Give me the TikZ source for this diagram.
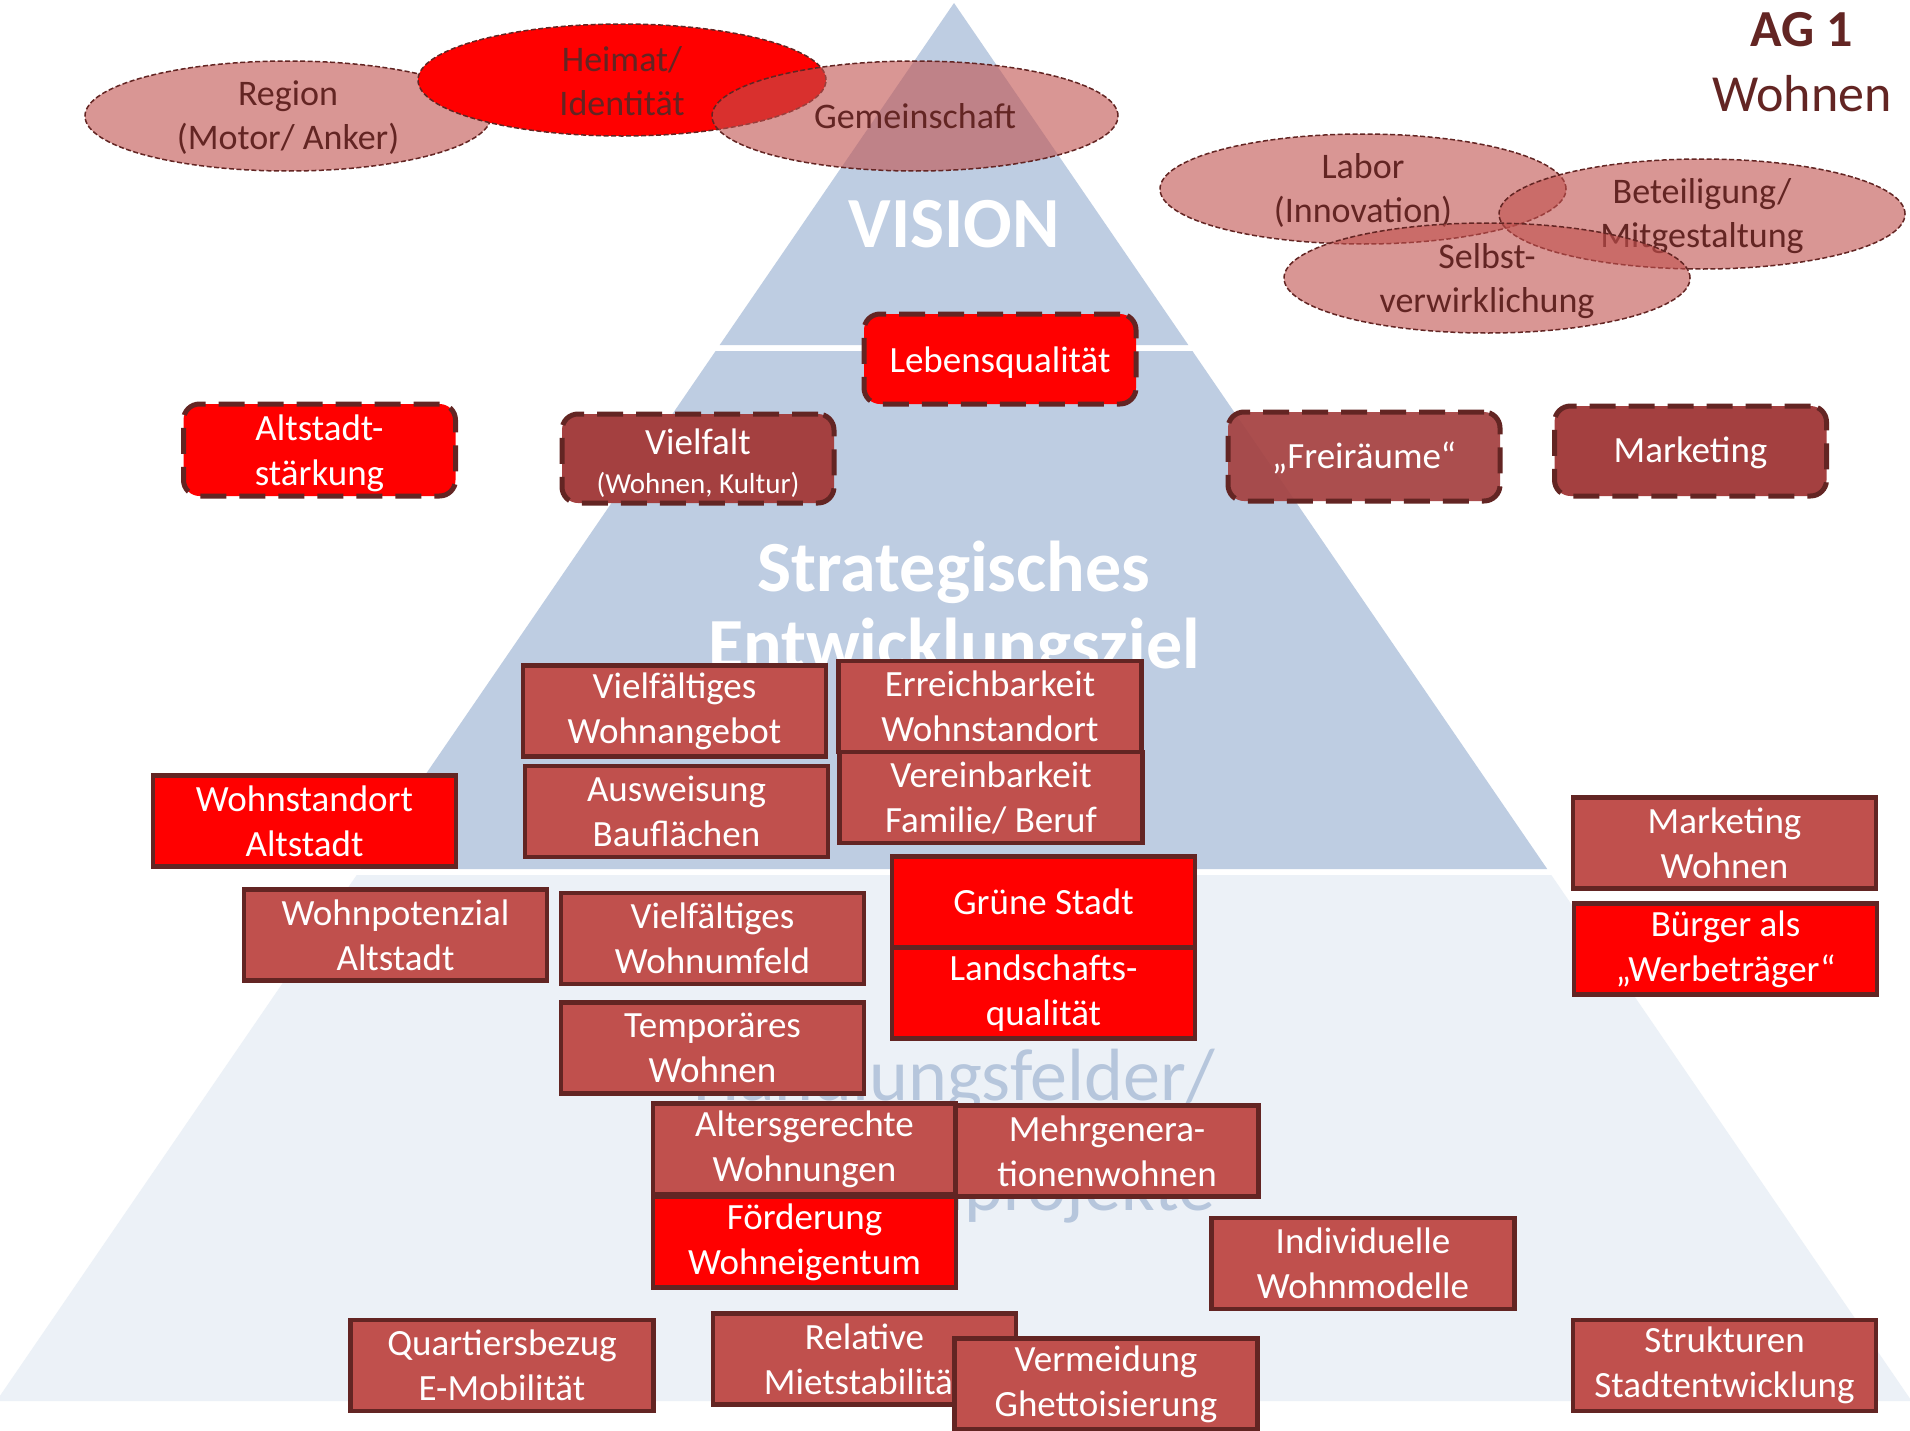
\documentclass[tikz,border=0pt]{standalone}
\usepackage{fontspec}
\setmainfont{Carlito}
\usetikzlibrary{shapes.geometric}
\definecolor{dred}{HTML}{632523}
\definecolor{boxred}{HTML}{C0504D}
\definecolor{texred}{RGB}{164,64,64}
\definecolor{pyr}{RGB}{190,205,226}
\definecolor{pyrlight}{RGB}{236,241,247}
\definecolor{lowtxtcol}{RGB}{182,198,220}
\begin{document}
\begin{tikzpicture}[x=1pt,y=-1pt,
  fbox/.style={draw=dred, line width=4.5pt, fill=boxred, text=white, minimum width=303pt, minimum height=91pt, inner sep=0pt, align=center, font=\fontsize{37}{45}\selectfont},
  rbox/.style={fbox, fill=red},
  gbox/.style={draw=dred, line width=5pt, dash pattern=on 26pt off 13pt, rounded corners=16pt, minimum width=272pt, minimum height=90pt, inner sep=0pt, text=white, align=center, fill=texred, font=\fontsize{37}{45}\selectfont},
  gtxt/.style={text=white, align=center, font=\fontsize{37}{45}\selectfont},
  ell/.style={ellipse, draw=dred, line width=1.5pt, dash pattern=on 5pt off 2.5pt, fill=boxred, fill opacity=0.6, minimum width=406pt, minimum height=110pt, inner sep=0pt},
  elltxt/.style={text=dred, align=center, font=\fontsize{36}{44}\selectfont},
  bandtxt/.style={text=white, font=\fontsize{72}{80}\selectfont\bfseries, anchor=base},
  lowtxt/.style={text=lowtxtcol, font=\fontsize{74}{90}\selectfont, anchor=base},
  ttl/.style={text=dred, font=\fontsize{52}{60}\selectfont}
]
\useasboundingbox (0,0) rectangle (1910,1430);
\fill[white] (0,0) rectangle (1910,1430);

% pyramid bands
\fill[pyr] (954,3) -- (1188.3,345) -- (719.7,345) -- cycle;
\fill[pyr] (715.6,351) -- (1192.4,351) -- (1547.2,869) -- (360.8,869) -- cycle;
\fill[pyrlight] (356.7,875) -- (1551.3,875) -- (1911.6,1401) -- (-3.6,1401) -- cycle;

\node[bandtxt] (vision) at (954,247) {VISION};
\node[bandtxt] (strat1) at (954,591) {Strategisches};
\node[bandtxt] (strat2) at (954,668) {Entwicklungsziel};
\node[lowtxt] (hf1) at (954,1100) {Handlungsfelder/};
\node[lowtxt] (hf2) at (954,1210) {Schlüsselprojekte};

% title
\node[ttl, font=\fontsize{52}{60}\selectfont\bfseries] (ag) at (1802,30) {AG 1};
\node[ttl] (wohnen) at (1802,94) {Wohnen};

% top-left ellipses
\node[ell] (region) at (288,116) {};
\node[elltxt] (regiont) at (288,118) {Region\\(Motor/ Anker)};
\node[ell, fill=red, fill opacity=1, minimum width=408pt, minimum height=112pt] (heimat) at (622,80) {};
\node[elltxt] (heimatt) at (622,81) {Heimat/\\Identität};
\node[ell] (gemein) at (915,116) {};
\node[elltxt] (gemeint) at (gemein.center) {Gemeinschaft};

% right ellipses
\node[ell] (labor) at (1363,189) {};
\node[elltxt] (labort) at (1363,190) {Labor\\(Innovation)};
\node[ell] (beteil) at (1702,214) {};
\node[elltxt] (beteilt) at (1702,216) {Beteiligung/\\Mitgestaltung};
\node[ell] (selbst) at (1487,278) {};
\node[elltxt] (selbstt) at (1487,281) {Selbst-\\verwirklichung};

% strategic goals (dashed)
\node[gbox, fill=red] (lebens) at (1000,359) {};
\node[gtxt] (lebenst) at (1000,363) {Lebensqualität};
\node[gbox, fill=red, minimum height=92pt] (altst) at (319.5,450) {};
\node[gtxt] (altstt) at (319.5,453) {Altstadt-\\stärkung};
\node[gbox, minimum height=89pt] (vielfalt) at (698,458.5) {};
\node[gtxt] (vielfaltt) at (698,463) {Vielfalt\\[-6pt]{\fontsize{29}{34}\selectfont(Wohnen, Kultur)}};
\node[gbox, fill opacity=0.92, minimum height=89pt] (frei) at (1364,456.5) {};
\node[gtxt] (freit) at (1364,458) {„Freiräume“};
\node[gbox] (mark) at (1690.5,451) {};
\node[gtxt] (markt) at (1690.5,453) {Marketing};

% action fields
\node[fbox] (vwa) at (674.5,711) {Vielfältiges\\Wohnangebot};
\node[fbox] (erreich) at (990,706.5) {Erreichbarkeit\\Wohnstandort};
\node[fbox] (ausw) at (676.5,811.5) {Ausweisung\\Bauflächen};
\node[fbox] (verein) at (991,797.5) {Vereinbarkeit\\Familie/ Beruf};
\node[rbox] (wsalt) at (304.5,821) {Wohnstandort\\Altstadt};
\node[fbox] (markw) at (1724.5,843) {Marketing\\Wohnen};
\node[fbox] (wpot) at (395.5,935) {Wohnpotenzial\\Altstadt};
\node[fbox] (vwu) at (712.5,938.5) {Vielfältiges\\Wohnumfeld};
\node[rbox] (gruen) at (1043.5,902) {Grüne Stadt};
\node[rbox] (land) at (1043.5,993) {Landschafts-\\qualität};
\node[rbox] (buerger) at (1725.5,949) {Bürger als\\„Werbeträger“};
\node[fbox] (temp) at (712.5,1048) {Temporäres\\Wohnen};
\node[fbox] (alter) at (804.5,1149) {Altersgerechte\\Wohnungen};
\node[fbox] (mehr) at (1107,1151) {Mehrgenera-\\tionenwohnen};
\node[rbox] (foerd) at (804.5,1242) {Förderung\\Wohneigentum};
\node[fbox] (indiv) at (1363,1263.5) {Individuelle\\Wohnmodelle};
\node[fbox] (quart) at (502,1365.5) {Quartiersbezug\\E-Mobilität};
\node[fbox] (relat) at (864.5,1359) {Relative\\Mietstabilität};
\node[fbox] (verm) at (1106,1384) {Vermeidung\\Ghettoisierung};
\node[fbox] (strukt) at (1724.5,1365.5) {Strukturen\\Stadtentwicklung};
\end{tikzpicture}
\end{document}
